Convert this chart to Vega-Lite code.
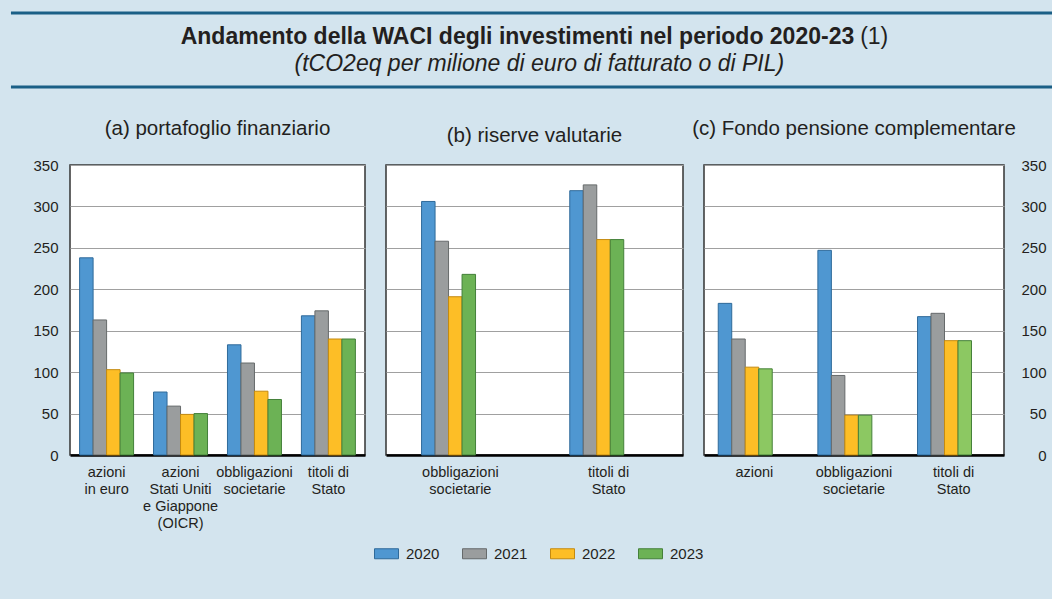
{
  "$schema": "https://vega.github.io/schema/vega-lite/v6.json",
  "background": "#d3e4ee",
  "padding": {"left": 9, "top": 11, "right": 0, "bottom": 40},
  "datasets": {
    "pa": [
      {"categoria": "azioni|in euro", "anno": "2020", "valore": 238},
      {"categoria": "azioni|in euro", "anno": "2021", "valore": 163},
      {"categoria": "azioni|in euro", "anno": "2022", "valore": 103},
      {"categoria": "azioni|in euro", "anno": "2023", "valore": 99},
      {"categoria": "azioni|Stati Uniti|e Giappone|(OICR)", "anno": "2020", "valore": 76},
      {"categoria": "azioni|Stati Uniti|e Giappone|(OICR)", "anno": "2021", "valore": 59},
      {"categoria": "azioni|Stati Uniti|e Giappone|(OICR)", "anno": "2022", "valore": 49},
      {"categoria": "azioni|Stati Uniti|e Giappone|(OICR)", "anno": "2023", "valore": 50},
      {"categoria": "obbligazioni|societarie", "anno": "2020", "valore": 133},
      {"categoria": "obbligazioni|societarie", "anno": "2021", "valore": 111},
      {"categoria": "obbligazioni|societarie", "anno": "2022", "valore": 77},
      {"categoria": "obbligazioni|societarie", "anno": "2023", "valore": 67},
      {"categoria": "titoli di|Stato", "anno": "2020", "valore": 168},
      {"categoria": "titoli di|Stato", "anno": "2021", "valore": 174},
      {"categoria": "titoli di|Stato", "anno": "2022", "valore": 140},
      {"categoria": "titoli di|Stato", "anno": "2023", "valore": 140}
    ],
    "pb": [
      {"categoria": "obbligazioni|societarie", "anno": "2020", "valore": 306},
      {"categoria": "obbligazioni|societarie", "anno": "2021", "valore": 258},
      {"categoria": "obbligazioni|societarie", "anno": "2022", "valore": 191},
      {"categoria": "obbligazioni|societarie", "anno": "2023", "valore": 218},
      {"categoria": "titoli di|Stato", "anno": "2020", "valore": 319},
      {"categoria": "titoli di|Stato", "anno": "2021", "valore": 326},
      {"categoria": "titoli di|Stato", "anno": "2022", "valore": 260},
      {"categoria": "titoli di|Stato", "anno": "2023", "valore": 260}
    ],
    "pc": [
      {"categoria": "azioni", "anno": "2020", "valore": 183},
      {"categoria": "azioni", "anno": "2021", "valore": 140},
      {"categoria": "azioni", "anno": "2022", "valore": 106},
      {"categoria": "azioni", "anno": "2023", "valore": 104},
      {"categoria": "obbligazioni|societarie", "anno": "2020", "valore": 247},
      {"categoria": "obbligazioni|societarie", "anno": "2021", "valore": 96},
      {"categoria": "obbligazioni|societarie", "anno": "2022", "valore": 48},
      {"categoria": "obbligazioni|societarie", "anno": "2023", "valore": 48},
      {"categoria": "titoli di|Stato", "anno": "2020", "valore": 167},
      {"categoria": "titoli di|Stato", "anno": "2021", "valore": 171},
      {"categoria": "titoli di|Stato", "anno": "2022", "valore": 138},
      {"categoria": "titoli di|Stato", "anno": "2023", "valore": 138}
    ]
  },
  "vconcat": [
    {
      "width": 984,
      "height": 74,
      "view": {"stroke": null},
      "layer": [
        {
          "data": {"values": [{"linea": "superiore"}]},
          "mark": {"type": "rule", "color": "#1a5f86", "strokeWidth": 3},
          "encoding": {
            "x": {"datum": -0.06, "type": "quantitative", "scale": {"domain": [0, 1]}, "axis": null},
            "x2": {"datum": 1},
            "y": {"datum": 1, "type": "quantitative", "scale": {"domain": [0, 1]}, "axis": null}
          }
        },
        {
          "data": {"values": [{"linea": "inferiore"}]},
          "mark": {"type": "rule", "color": "#1a5f86", "strokeWidth": 3},
          "encoding": {
            "x": {"datum": -0.06, "type": "quantitative"},
            "x2": {"datum": 1},
            "y": {"datum": 0, "type": "quantitative"}
          }
        },
        {
          "data": {"values": [{"testo": "Andamento della WACI degli investimenti nel periodo 2020-23"}]},
          "mark": {"type": "text", "font": "Liberation Sans", "fontSize": 23, "fontWeight": "bold", "align": "right", "baseline": "middle", "color": "#231f20"},
          "encoding": {
            "x": {"datum": 0.797, "type": "quantitative"},
            "y": {"datum": 0.67, "type": "quantitative"},
            "text": {"field": "testo"}
          }
        },
        {
          "data": {"values": [{"testo": "(1)"}]},
          "mark": {"type": "text", "font": "Liberation Sans", "fontSize": 23, "align": "left", "baseline": "middle", "color": "#231f20"},
          "encoding": {
            "x": {"datum": 0.803, "type": "quantitative"},
            "y": {"datum": 0.67, "type": "quantitative"},
            "text": {"field": "testo"}
          }
        },
        {
          "data": {"values": [{"testo": "(tCO2eq per milione di euro di fatturato o di PIL)"}]},
          "mark": {"type": "text", "font": "Liberation Sans", "fontSize": 23, "fontStyle": "italic", "align": "center", "baseline": "middle", "color": "#231f20"},
          "encoding": {
            "x": {"datum": 0.477, "type": "quantitative"},
            "y": {"datum": 0.31, "type": "quantitative"},
            "text": {"field": "testo"}
          }
        }
      ]
    },
    {
      "bounds": "flush",
      "hconcat": [
        {
          "width": 295,
          "height": 290,
          "view": {"stroke": "#333333", "strokeWidth": 1.5, "fill": "white"},
          "title": {"text": "(a) portafoglio finanziario"},
          "data": {"name": "pa"},
          "mark": {"type": "bar", "strokeWidth": 1},
          "encoding": {
            "x": {
              "field": "categoria", "type": "nominal", "sort": null,
              "scale": {"paddingInner": 0.27, "paddingOuter": 0.13},
              "axis": {"title": null, "labelAngle": 0, "labelExpr": "split(datum.label, '|')"}
            },
            "xOffset": {"field": "anno", "type": "nominal", "scale": {"paddingInner": 0}},
            "y": {
              "field": "valore", "type": "quantitative",
              "scale": {"domain": [0, 350]},
              "axis": {"title": null, "values": [0, 50, 100, 150, 200, 250, 300, 350], "minExtent": 59, "labelPadding": 12}
            },
            "color": {"field": "anno", "type": "nominal", "title": null,
              "scale": {"domain": ["2020", "2021", "2022", "2023"], "range": ["#4f97d1", "#9a9d9e", "#fdbe26", "#6cb255"]}},
            "stroke": {"field": "anno", "type": "nominal", "title": null,
              "scale": {"domain": ["2020", "2021", "2022", "2023"], "range": ["#2f6a9a", "#666a6b", "#c48a10", "#44803a"]}}
          }
        },
        {
          "width": 297,
          "height": 290,
          "view": {"stroke": "#333333", "strokeWidth": 1.5, "fill": "white"},
          "title": {"text": "(b) riserve valutarie"},
          "data": {"name": "pb"},
          "mark": {"type": "bar", "strokeWidth": 1},
          "encoding": {
            "x": {
              "field": "categoria", "type": "nominal", "sort": null,
              "scale": {"paddingInner": 0.476, "paddingOuter": 0.24},
              "axis": {"title": null, "labelAngle": 0, "labelExpr": "split(datum.label, '|')"}
            },
            "xOffset": {"field": "anno", "type": "nominal", "scale": {"paddingInner": 0}},
            "y": {
              "field": "valore", "type": "quantitative",
              "scale": {"domain": [0, 350]},
              "axis": {"title": null, "values": [0, 50, 100, 150, 200, 250, 300, 350], "labels": false}
            },
            "color": {"field": "anno", "type": "nominal", "title": null},
            "stroke": {"field": "anno", "type": "nominal", "title": null}
          }
        },
        {
          "width": 300,
          "height": 290,
          "view": {"stroke": "#333333", "strokeWidth": 1.5, "fill": "white"},
          "title": {"text": "(c) Fondo pensione complementare"},
          "data": {"name": "pc"},
          "mark": {"type": "bar", "strokeWidth": 1},
          "encoding": {
            "x": {
              "field": "categoria", "type": "nominal", "sort": null,
              "scale": {"paddingInner": 0.275, "paddingOuter": 0.143},
              "axis": {"title": null, "labelAngle": 0, "labelExpr": "split(datum.label, '|')"}
            },
            "xOffset": {"field": "anno", "type": "nominal", "scale": {"paddingInner": 0}},
            "y": {
              "field": "valore", "type": "quantitative",
              "scale": {"domain": [0, 350]},
              "axis": {"title": null, "orient": "right", "values": [0, 50, 100, 150, 200, 250, 300, 350], "labelAlign": "right", "labelPadding": 42}
            },
            "color": {"field": "anno", "type": "nominal", "title": null,
              "condition": {"test": "datum.anno === '2023'", "value": "#8cc862"}},
            "stroke": {"field": "anno", "type": "nominal", "title": null}
          }
        }
      ],
      "spacing": 21,
      "resolve": {"scale": {"y": "independent", "x": "independent"}}
    }
  ],
  "spacing": 28,
  "config": {
    "font": "Liberation Sans",
    "view": {"stroke": null},
    "title": {"fontSize": 20.5, "fontWeight": "normal", "color": "#231f20", "offset": 19, "anchor": "middle"},
    "axis": {
      "labelFont": "Liberation Sans",
      "labelColor": "#231f20",
      "gridColor": "#a0a0a0",
      "gridWidth": 1,
      "ticks": false,
      "domain": false
    },
    "axisX": {
      "labelFontSize": 14.5,
      "labelLineHeight": 17,
      "labelBaseline": "top",
      "labelPadding": 10,
      "grid": false,
      "domain": true,
      "domainColor": "#000000",
      "domainWidth": 2.5
    },
    "axisY": {
      "labelFontSize": 15,
      "grid": true
    },
    "legend": {
      "orient": "none",
      "legendX": 306,
      "legendY": 530,
      "padding": 0,
      "direction": "horizontal",
      "symbolType": "M-1.2,-0.5H1.2V0.5H-1.2Z",
      "symbolSize": 400,
      "symbolStrokeWidth": 1,
      "labelFontSize": 15,
      "labelColor": "#231f20",
      "labelFont": "Liberation Sans",
      "columnPadding": 20,
      "labelOffset": 9
    }
  }
}
